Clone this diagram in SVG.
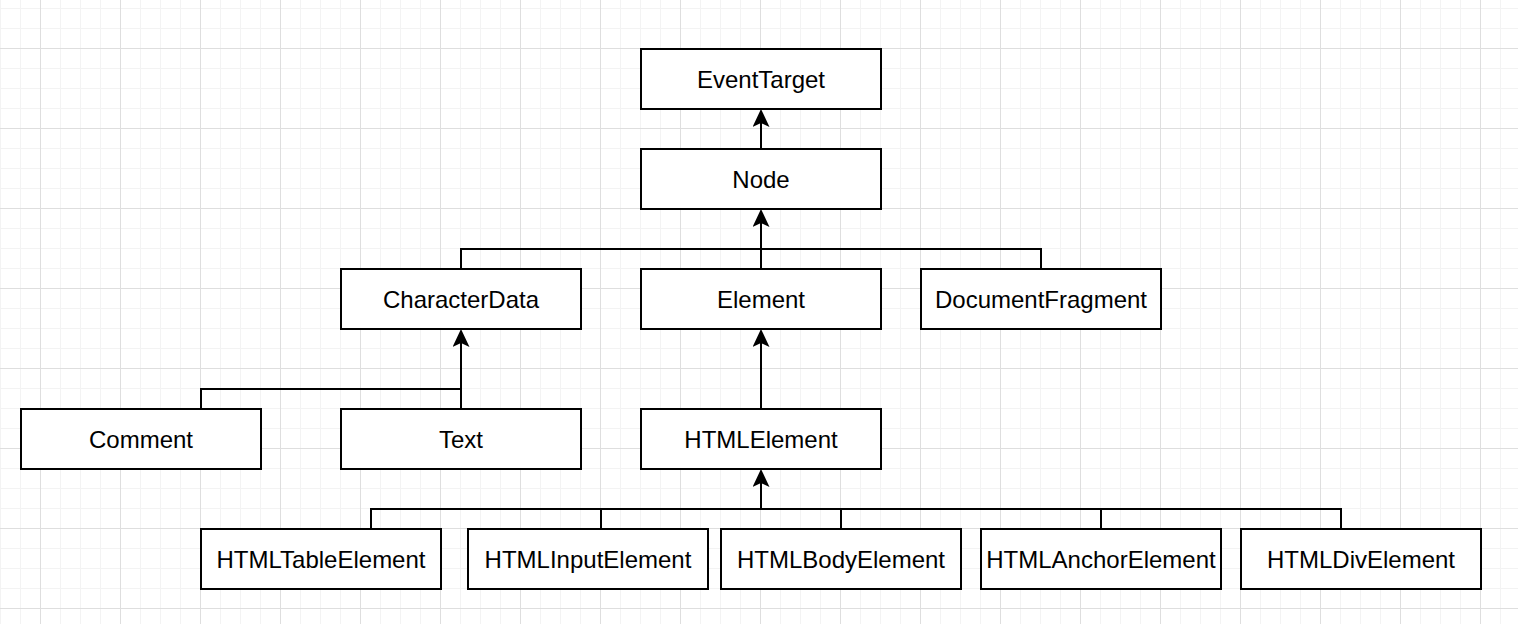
<svg xmlns="http://www.w3.org/2000/svg" width="1518" height="624" viewBox="0 0 1518 624">
  <style>
    .box { fill: #ffffff; stroke: #000000; stroke-width: 2; }
    .lbl { font-family: "Liberation Sans", Arial, Helvetica, sans-serif; font-size: 24px; fill: #000000; text-anchor: middle; }
    .edge { fill: none; stroke: #000000; stroke-width: 2; }
    .arrow { marker-end: url(#arr); }
  </style>
  <defs>
    <pattern id="gridMinor" patternUnits="userSpaceOnUse" x="0" y="8" width="20" height="20">
      <path d="M0.5 0V20M0 0.5H20" fill="none" stroke="#f3f3f3" stroke-width="1"/>
    </pattern>
    <pattern id="gridMajor" patternUnits="userSpaceOnUse" x="40" y="48" width="80" height="80">
      <path d="M0.5 0V80M0 0.5H80" fill="none" stroke="#dedede" stroke-width="1"/>
    </pattern>
    <marker id="arr" viewBox="0 0 18 17" markerWidth="18" markerHeight="17" markerUnits="userSpaceOnUse" refX="4" refY="8.5" orient="auto">
      <path d="M18 8.5L0 0L4 8.5L0 17Z" fill="#000000"/>
    </marker>
  </defs>
  <rect x="0" y="0" width="1518" height="624" fill="#ffffff"/>
  <rect x="0" y="0" width="1518" height="624" fill="url(#gridMinor)"/>
  <rect x="0" y="0" width="1518" height="624" fill="url(#gridMajor)"/>

  <g id="connectors">
    <path class="edge arrow" d="M761 149V123"/>
    <path class="edge" d="M461 269V249H761"/>
    <path class="edge" d="M1041 269V249H761"/>
    <path class="edge arrow" d="M761 269V223"/>
    <path class="edge" d="M201 409V389H461"/>
    <path class="edge arrow" d="M461 409V343"/>
    <path class="edge arrow" d="M761 409V343"/>
    <path class="edge" d="M371 529V509H761"/>
    <path class="edge" d="M601 529V509H761"/>
    <path class="edge" d="M841 529V509H761"/>
    <path class="edge" d="M1101 529V509H761"/>
    <path class="edge" d="M1341 529V509H761"/>
    <path class="edge arrow" d="M761 509V483"/>
  </g>

  <g id="EventTarget"><rect class="box" x="641" y="49" width="240" height="60"/><text class="lbl" x="761" y="87.5">EventTarget</text></g>
  <g id="Node"><rect class="box" x="641" y="149" width="240" height="60"/><text class="lbl" x="761" y="187.5">Node</text></g>
  <g id="CharacterData"><rect class="box" x="341" y="269" width="240" height="60"/><text class="lbl" x="461" y="307.5">CharacterData</text></g>
  <g id="Element"><rect class="box" x="641" y="269" width="240" height="60"/><text class="lbl" x="761" y="307.5">Element</text></g>
  <g id="DocumentFragment"><rect class="box" x="921" y="269" width="240" height="60"/><text class="lbl" x="1041" y="307.5">DocumentFragment</text></g>
  <g id="Comment"><rect class="box" x="21" y="409" width="240" height="60"/><text class="lbl" x="141" y="447.5">Comment</text></g>
  <g id="Text"><rect class="box" x="341" y="409" width="240" height="60"/><text class="lbl" x="461" y="447.5">Text</text></g>
  <g id="HTMLElement"><rect class="box" x="641" y="409" width="240" height="60"/><text class="lbl" x="761" y="447.5">HTMLElement</text></g>
  <g id="HTMLTableElement"><rect class="box" x="201" y="529" width="240" height="60"/><text class="lbl" x="321" y="567.5">HTMLTableElement</text></g>
  <g id="HTMLInputElement"><rect class="box" x="468" y="529" width="240" height="60"/><text class="lbl" x="588" y="567.5">HTMLInputElement</text></g>
  <g id="HTMLBodyElement"><rect class="box" x="721" y="529" width="240" height="60"/><text class="lbl" x="841" y="567.5">HTMLBodyElement</text></g>
  <g id="HTMLAnchorElement"><rect class="box" x="981" y="529" width="240" height="60"/><text class="lbl" x="1101" y="567.5">HTMLAnchorElement</text></g>
  <g id="HTMLDivElement"><rect class="box" x="1241" y="529" width="240" height="60"/><text class="lbl" x="1361" y="567.5">HTMLDivElement</text></g>
</svg>
